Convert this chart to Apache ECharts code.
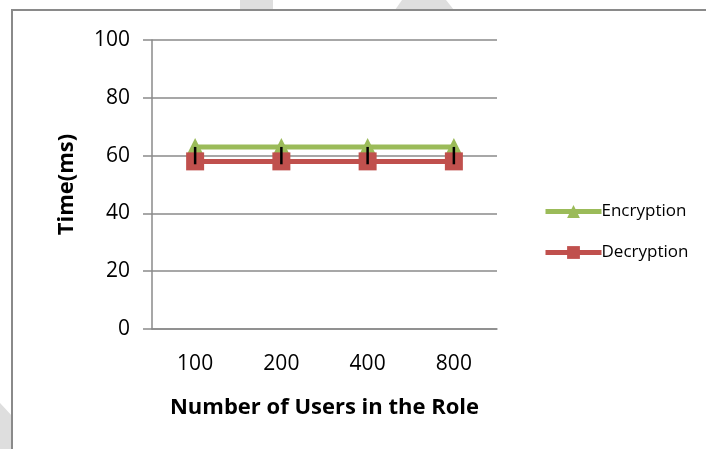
<!DOCTYPE html>
<html>
<head>
<meta charset="utf-8">
<script src="https://cdn.jsdelivr.net/npm/echarts@6/dist/echarts.min.js"></script>
<style>
  html, body { margin: 0; padding: 0; background: #fff; }
  #chart { width: 706px; height: 449px; }
</style>
</head>
<body>
<div id="chart"></div>
<script>
var users = ["100", "200", "400", "800"];
var encryption = [63, 63, 63, 63];
var decryption = [58, 58, 58, 58];
var errLow = [57, 57, 57, 57];
var errHigh = [63, 63, 63, 63];
var yTicks = [0, 20, 40, 60, 80, 100];

var FONT = "Open Sans";

var myChart = echarts.init(document.getElementById("chart"));

var option = {
  animation: false,
  backgroundColor: "#fff",
  textStyle: { fontFamily: FONT },
  graphic: [
    // faint watermark shapes behind the frame
    { type: "rect", z: -20, shape: { x: 240, y: 0, width: 33, height: 20 }, style: { fill: "#dedede" } },
    { type: "polygon", z: -20, shape: { points: [[402, 0], [446, 0], [462, 20], [388, 20]] }, style: { fill: "#dedede" } },
    { type: "polygon", z: -20, shape: { points: [[0, 403], [14, 418], [14, 449], [0, 449]] }, style: { fill: "#dedede" } },
    // chart frame
    { type: "rect", z: -10, shape: { x: 12, y: 10, width: 760, height: 500 }, style: { fill: "#fff", stroke: "#8a8a8a", lineWidth: 2 } }
  ],
  grid: { left: 152, right: 209, top: 40, bottom: 120 },
  legend: {
    orient: "vertical",
    left: 538,
    top: 198,
    itemWidth: 56,
    itemHeight: 16,
    itemGap: 24,
    lineStyle: { width: 5 },
    textStyle: { fontFamily: FONT, fontSize: 17, color: "#000", padding: [0, 0, 0, -5] },
    data: ["Encryption", "Decryption"]
  },
  xAxis: {
    type: "category",
    data: users,
    name: "Number of Users in the Role",
    nameLocation: "middle",
    nameGap: 68,
    nameTextStyle: { fontFamily: FONT, fontSize: 22, fontWeight: "bold", color: "#000" },
    axisLine: { show: true, lineStyle: { color: "#8a8a8a", width: 1.5 } },
    axisTick: { show: false },
    axisLabel: { margin: 25, fontSize: 21, color: "#000", fontFamily: FONT }
  },
  yAxis: {
    type: "value",
    min: yTicks[0],
    max: yTicks[yTicks.length - 1],
    interval: 20,
    name: "Time(ms)",
    nameLocation: "middle",
    nameRotate: 90,
    nameGap: 74,
    nameTextStyle: { fontFamily: FONT, fontSize: 22, fontWeight: "bold", color: "#000" },
    axisLine: { show: true, lineStyle: { color: "#8a8a8a", width: 1.5 } },
    axisTick: { show: true, inside: false, length: 9, lineStyle: { color: "#8a8a8a", width: 1.5 } },
    splitLine: { show: true, lineStyle: { color: "#8a8a8a", width: 1.5 } },
    axisLabel: { margin: 22, fontSize: 21, color: "#000", fontFamily: FONT }
  },
  series: [
    {
      name: "Encryption",
      type: "line",
      data: encryption,
      symbol: "triangle",
      symbolSize: 18,
      z: 3,
      lineStyle: { color: "#9bbb59", width: 5 },
      itemStyle: { color: "#9bbb59" }
    },
    {
      name: "Decryption",
      type: "line",
      data: decryption,
      symbol: "rect",
      symbolSize: 18,
      z: 4,
      lineStyle: { color: "#c0504d", width: 5 },
      itemStyle: { color: "#c0504d" }
    },
    {
      name: "error",
      type: "custom",
      z: 6,
      data: users.map(function (u, i) { return [i, errLow[i], errHigh[i]]; }),
      renderItem: function (params, api) {
        var lo = api.coord([api.value(0), api.value(1)]);
        var hi = api.coord([api.value(0), api.value(2)]);
        return {
          type: "line",
          shape: { x1: lo[0], y1: lo[1], x2: hi[0], y2: hi[1] },
          style: { stroke: "#000", lineWidth: 2.5 }
        };
      }
    }
  ]
};

myChart.setOption(option);
</script>
</body>
</html>
